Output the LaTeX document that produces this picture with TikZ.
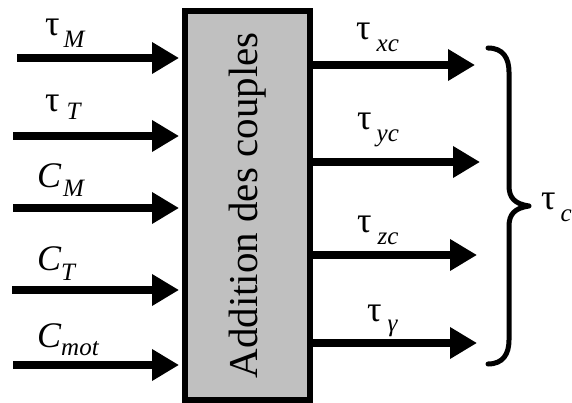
\documentclass[tikz,border=0pt]{standalone}
\usepackage{fontspec}
\setmainfont{Liberation Serif}
\newfontfamily\serifit{Liberation Serif Italic}
\usetikzlibrary{arrows.meta}
\definecolor{boxgray}{RGB}{192,192,192}
\newcommand{\lab}[4]{#1\hspace{#3}\raisebox{-#4}{\fontsize{25}{25}\selectfont\serifit #2}}
\tikzset{
  arr/.style={line width=8pt, -{Triangle[length=27pt,width=30pt]}},
  lbl/.style={anchor=base west, inner sep=0pt, font=\fontsize{36}{36}\selectfont},
  blk/.style={draw, line width=6pt, fill=boxgray, inner sep=0pt, minimum width=125pt, minimum height=389pt},
  brc/.style={line width=5pt, line cap=round, line join=round}
}
\begin{document}
\begin{tikzpicture}[x=1pt,y=-1pt]
\useasboundingbox (0,0) rectangle (572,403);
\node[blk] (box) at (247.5,205.5) {};
\node[rotate=90, font=\fontsize{41}{41}\selectfont, inner sep=0pt] (title) at (box.center) {Addition des couples};
% inputs
\coordinate (s1) at (17,58);
\coordinate (s2) at (13,136);
\coordinate (s3) at (13,208);
\coordinate (s4) at (12,290);
\coordinate (s5) at (13,365);
\foreach \i in {1,...,5}{
  \draw[arr, shorten >=3pt] (s\i) -- (s\i -| box.west);
}
\node[lbl] (l1) at (45,36) {\lab{τ}{M}{4pt}{12pt}};
\node[lbl] (l2) at (45,112) {\lab{τ}{T}{7pt}{8pt}};
\node[lbl] (l3) at (37,188) {\lab{\serifit C}{M}{2pt}{9pt}};
\node[lbl] (l4) at (37,270) {\lab{\serifit C}{T}{0pt}{10pt}};
\node[lbl] (l5) at (37,347) {\lab{\serifit C}{mot}{0pt}{8pt}};
% outputs
\coordinate (e1) at (475,65);
\coordinate (e2) at (480,162);
\coordinate (e3) at (477,255);
\coordinate (e4) at (477,343);
\foreach \i in {1,...,4}{
  \draw[arr] (box.east |- e\i) -- (e\i);
}
\node[lbl] (o1) at (356,40) {\lab{τ}{xc}{6pt}{12pt}};
\node[lbl] (o2) at (357,130) {\lab{τ}{yc}{5pt}{12pt}};
\node[lbl] (o3) at (357,233) {\lab{τ}{zc}{6pt}{12pt}};
\node[lbl] (o4) at (367,321) {\lab{τ}{γ}{6pt}{10pt}};
% brace
\coordinate (bt) at (488,48);
\coordinate (bb) at (488,364);
\coordinate (tip) at (529,206);
\draw[brc] (bt) .. controls (503,48) and (509,58) .. (509,72)
  -- (509,186) .. controls (509,198) and (515,204) .. (tip)
  .. controls (515,208) and (509,214) .. (509,226)
  -- (509,340) .. controls (509,354) and (503,364) .. (bb);
\node[lbl] (tc) at (541,210) {\lab{τ}{c}{5pt}{12pt}};
\end{tikzpicture}
\end{document}
